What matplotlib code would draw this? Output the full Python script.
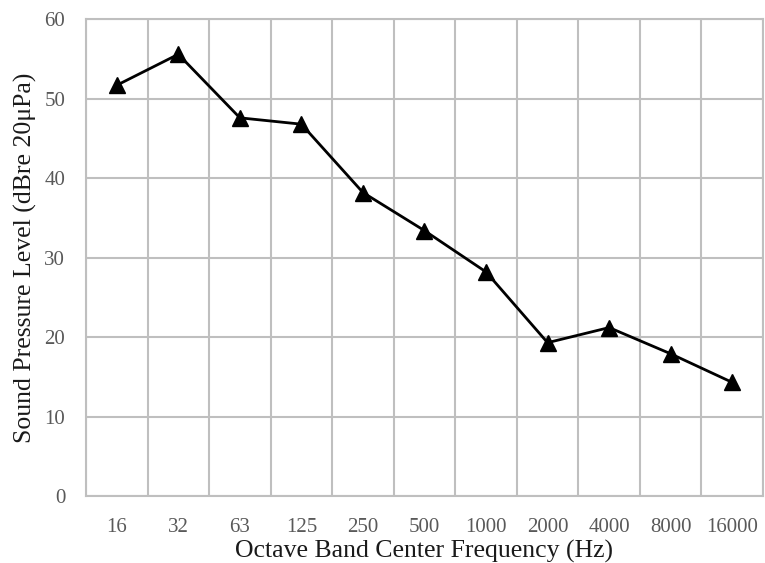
import matplotlib
matplotlib.use("Agg")
import matplotlib.pyplot as plt
import numpy as np

# Octave band centre frequencies and measured sound pressure levels
bands = ["16", "32", "63", "125", "250", "500", "1000", "2000", "4000", "8000", "16000"]
spl_db = [51.7, 55.6, 47.6, 46.8, 38.2, 33.4, 28.2, 19.3, 21.2, 17.9, 14.3]
y_ticks = [0, 10, 20, 30, 40, 50, 60]

plt.rcParams["font.family"] = ["Liberation Serif", "DejaVu Serif"]

fig = plt.figure(figsize=(7.65, 5.63), dpi=100)
ax = fig.add_axes([0.1124, 0.119, 0.8850, 0.8467])

x = np.arange(len(bands))
ax.plot(x, spl_db, color="black", linewidth=2.0, marker="^",
        markersize=11.5, markerfacecolor="black", markeredgecolor="black",
        zorder=3)

grid_color = "#bfbfbf"
ax.set_xlim(-0.5, len(bands) - 0.5)
ax.set_ylim(0, 60)

# vertical grid lines sit on the boundaries between categories
ax.set_xticks(np.arange(-0.5, len(bands) - 0.5 + 1e-9, 1.0))
ax.set_xticklabels([])
ax.set_xticks(x, minor=True)
ax.set_xticklabels(bands, minor=True)
ax.set_yticks(y_ticks)

ax.grid(True, which="major", color=grid_color, linewidth=1.5)
ax.set_axisbelow(True)
for side in ax.spines.values():
    side.set_color(grid_color)
    side.set_linewidth(1.5)

ax.tick_params(axis="both", which="both", length=0, labelsize=15,
               labelcolor="#595959")
ax.tick_params(axis="x", which="minor", pad=16)
ax.tick_params(axis="y", pad=15)

ax.set_xlabel("Octave Band Center Frequency (Hz)", fontsize=18.5,
              color="#1a1a1a", labelpad=2)
ax.set_ylabel("Sound Pressure Level (dBre 20\u03bcPa)", fontsize=18.5,
              color="#1a1a1a", labelpad=5)

fig.savefig("out.png", dpi=100)
